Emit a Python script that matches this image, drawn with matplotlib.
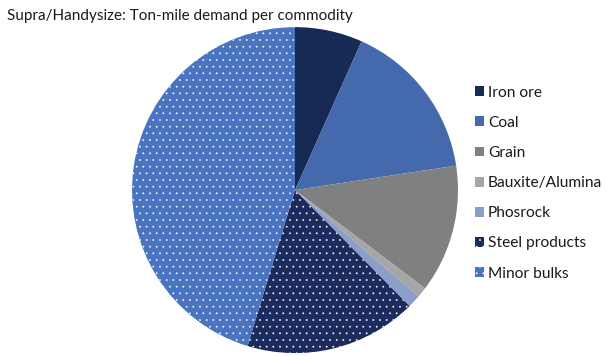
import matplotlib.pyplot as plt

# slice shares (%), clockwise from 12 o'clock
commodities = ['Iron ore', 'Coal', 'Grain', 'Bauxite/Alumina', 'Phosrock',
               'Steel products', 'Minor bulks']
shares = [6.7, 15.9, 12.7, 1.0, 1.3, 17.1, 45.3]
colors = ['#172a55', '#4569ad', '#808080', '#a6a6a6', '#8c9fc9',
          '#1b2b5e', '#4a73c0']
hatches = ['', '', '', '', '', '..', '..']

plt.rcParams['font.family'] = ['Lato', 'DejaVu Sans']
plt.rcParams['hatch.linewidth'] = 0.4

dpi = 80
fig = plt.figure(figsize=(607 / dpi, 356 / dpi), dpi=dpi)
ax = fig.add_axes([0.2175, 0.008, 0.537, 0.916])

wedges, _ = ax.pie(shares, colors=colors, startangle=90, counterclock=False,
                   radius=1.0, wedgeprops=dict(linewidth=0, edgecolor='white'))
for w, h in zip(wedges, hatches):
    if h:
        w.set_hatch(h)
ax.set_xlim(-1, 1)
ax.set_ylim(-1, 1)
ax.set_aspect('equal')

fig.text(0.012, 0.955, 'Supra/Handysize: Ton-mile demand per commodity',
         fontsize=13.7, color='#1a1a1a', va='center', ha='left')

leg = fig.legend(wedges, commodities, loc='upper left',
                 bbox_to_anchor=(0.772, 0.777), frameon=False,
                 fontsize=14, handlelength=0.6, handleheight=0.6,
                 handletextpad=0.25, labelspacing=1.04, borderaxespad=0)
for t in leg.get_texts():
    t.set_color('#1a1a1a')

fig.savefig('out.png', dpi=dpi)
